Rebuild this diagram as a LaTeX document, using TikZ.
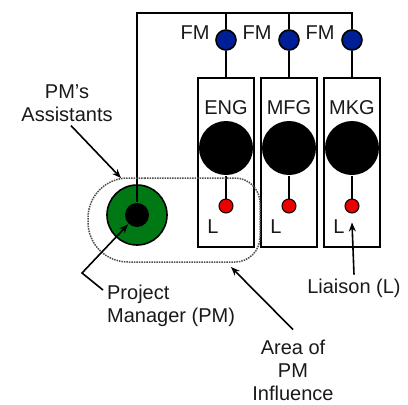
\documentclass[tikz,border=0pt]{standalone}
\usepackage{fontspec}
\setmainfont{Liberation Sans}
\usetikzlibrary{arrows.meta}

\definecolor{fmblue}{RGB}{0,30,150}
\definecolor{pmgreen}{RGB}{0,120,20}
\definecolor{lred}{RGB}{235,0,0}

\begin{document}
\begin{tikzpicture}[x=1pt, y=-1pt, line width=1.6pt,
    every node/.style={font=\fontsize{20}{23}\selectfont, text=black!90},
    dept/.style={rectangle, draw, minimum width=56pt, minimum height=169pt},
    arr/.style={-{Stealth[length=9pt, width=7pt]}}]
    \useasboundingbox (0,0) rectangle (408,405);

    % 部門
    \node[dept] (ENG) at (226, 162.5) {};
    \node[dept] (MFG) at (289, 162.5) {};
    \node[dept] (MKG) at (352, 162.5) {};
    \node (engt) at (226, 108) {ENG};
    \node (mfgt) at (289, 108) {MFG};
    \node (mkgt) at (352, 108) {MKG};

    % 丸
    \node[circle, fill=black, minimum size=54pt] (h1) at (226, 148) {};
    \node[circle, fill=black, minimum size=54pt] (h2) at (289, 148) {};
    \node[circle, fill=black, minimum size=54pt] (h3) at (352, 148) {};
    \node[circle, draw, fill=lred, line width=1pt, minimum size=14pt, inner sep=0pt] (l1) at (226, 206) {};
    \node[circle, draw, fill=lred, line width=1pt, minimum size=14pt, inner sep=0pt] (l2) at (289, 206) {};
    \node[circle, draw, fill=lred, line width=1pt, minimum size=14pt, inner sep=0pt] (l3) at (352, 206) {};
    \node[circle, draw, fill=fmblue, minimum size=20pt, inner sep=0pt] (fm1) at (226, 40) {};
    \node[circle, draw, fill=fmblue, minimum size=20pt, inner sep=0pt] (fm2) at (289, 40) {};
    \node[circle, draw, fill=fmblue, minimum size=20pt, inner sep=0pt] (fm3) at (352, 40) {};
    \node[circle, draw, fill=pmgreen, minimum size=60pt] (pm) at (137, 215) {};
    \node[circle, fill=black, minimum size=24pt] (pmin) at (137, 215) {};

    % 線
    \coordinate (tl) at (137, 13);
    \coordinate (tr) at (352, 13);
    \draw (pmin) -- (tl) -- (tr) -- (fm3);
    \draw (fm1) -- (fm1 |- tl);
    \draw (fm2) -- (fm2 |- tl);
    \draw (fm1) -- (ENG);
    \draw (fm2) -- (MFG);
    \draw (fm3) -- (MKG);
    \draw (h1) -- (l1);
    \draw (h2) -- (l2);
    \draw (h3) -- (l3);

    % 影響範囲
    \draw[densely dotted, line width=1.5pt, black!70]
        (170, 178) [rounded corners=40] -- (88, 178) -- (88, 262) -- (170, 262)
        [rounded corners=25] -- (260, 262) -- (260, 178) -- cycle;

    % 文字
    \node (fmt1) at (195, 33) {FM};
    \node (fmt2) at (257, 33) {FM};
    \node (fmt3) at (320, 33) {FM};
    \node (lt1) at (213, 227) {L};
    \node (lt2) at (276, 227) {L};
    \node (lt3) at (339, 227) {L};
    \node[align=center] (asst) at (67, 103) {PM's\\Assistants};
    \node[align=left, anchor=north west] (pmlab) at (103, 281) {Project\\Manager (PM)};
    \node[align=center] (area) at (293, 370) {Area of\\PM\\Influence};
    \node (liai) at (354, 288) {Liaison (L)};

    % 矢印
    \coordinate (a1) at (121, 178);
    \coordinate (a2) at (82, 273);
    \coordinate (a3) at (231, 267);
    \draw[arr] ([xshift=4pt]asst.south) -- (a1);
    \draw[arr] ([yshift=-9pt]pmlab.north west) -- (a2) -- (pmin);
    \draw[arr] ([yshift=6pt]area.north) -- (a3);
    \draw[arr] (liai.north) -- ([yshift=-9pt]l3.south);
\end{tikzpicture}
\end{document}
